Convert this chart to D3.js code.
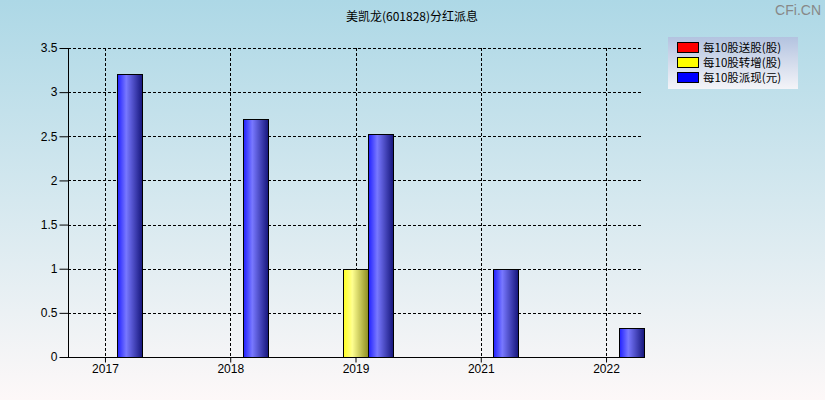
<!DOCTYPE html>
<html>
<head>
<meta charset="utf-8">
<script src="https://cdn.jsdelivr.net/npm/d3@7"></script>
<style>
  html, body { margin: 0; padding: 0; background: #fff; }
  svg { display: block; }
</style>
</head>
<body>
<div id="chart"></div>
<script>
const years = ['2017', '2018', '2019', '2021', '2022'];
const songGu = [0, 0, 0, 0, 0];        // 每10股送股(股)
const zhuanZeng = [0, 0, 1.0, 0, 0];   // 每10股转增(股)
const paiXian = [3.2, 2.7, 2.53, 1.0, 0.33]; // 每10股派现(元)
const yTicks = [0, 0.5, 1, 1.5, 2, 2.5, 3, 3.5];
const seriesNames = ['每10股送股(股)', '每10股转增(股)', '每10股派现(元)'];
const seriesColors = ['#ff0000', '#ffff00', '#0000ff'];

const W = 825, H = 400;
const margin = { left: 68, right: 182, top: 48, bottom: 43 };
const FONT = 'Arial, "Liberation Sans", sans-serif';
const CJK = '"Noto Sans CJK SC", sans-serif';

const svg = d3.select('#chart').append('svg').attr('width', W).attr('height', H);
const defs = svg.append('defs');

// page background: light blue fading to white
const bg = defs.append('linearGradient').attr('id', 'bg').attr('x1', 0).attr('y1', 0).attr('x2', 0).attr('y2', 1);
bg.append('stop').attr('offset', '0%').attr('stop-color', '#add8e6');
bg.append('stop').attr('offset', '100%').attr('stop-color', '#fdf8f8');
svg.append('rect').attr('width', W).attr('height', H).attr('fill', 'url(#bg)');

// bar shading gradients
function barGrad(id, base, light, dark) {
  const g = defs.append('linearGradient').attr('id', id).attr('x1', 0).attr('y1', 0).attr('x2', 1).attr('y2', 0);
  g.append('stop').attr('offset', '0%').attr('stop-color', base);
  g.append('stop').attr('offset', '35%').attr('stop-color', light);
  g.append('stop').attr('offset', '100%').attr('stop-color', dark);
}
barGrad('g0', '#ff2020', '#ff8080', '#801010');
barGrad('g1', '#ffff20', '#ffff90', '#8c8c20');
barGrad('g2', '#2020ff', '#7878ff', '#15157a');

const x = d3.scalePoint().domain(years)
  .range([margin.left, W - margin.right]).padding(0.295);
const y = d3.scaleLinear().domain([0, 3.5]).range([H - margin.bottom, margin.top]);
const barW = 25;

// title and watermark
svg.append('text').attr('x', 412).attr('y', 21).attr('text-anchor', 'middle')
  .attr('font-family', CJK).attr('font-size', 12).attr('fill', '#000')
  .text('美凯龙(601828)分红派息');
svg.append('text').attr('x', 821).attr('y', 15).attr('text-anchor', 'end')
  .attr('font-family', FONT).attr('font-size', 14).attr('fill', '#888')
  .text('CFi.CN');

// grid
const grid = svg.append('g').attr('stroke', '#000').attr('stroke-dasharray', '3,2').attr('stroke-width', 1);
grid.selectAll('.hg').data(yTicks.filter(d => d > 0)).join('line')
  .attr('x1', margin.left).attr('x2', W - margin.right)
  .attr('y1', d => Math.round(y(d)) + 0.5).attr('y2', d => Math.round(y(d)) + 0.5);
grid.selectAll('.vg').data(years).join('line')
  .attr('x1', d => Math.round(x(d)) + 0.5).attr('x2', d => Math.round(x(d)) + 0.5)
  .attr('y1', margin.top).attr('y2', H - margin.bottom);

// bars
const series = [songGu, zhuanZeng, paiXian];
series.forEach((vals, si) => {
  svg.append('g').selectAll('rect')
    .data(vals.map((v, i) => ({ year: years[i], v })).filter(d => d.v > 0))
    .join('rect')
    .attr('x', d => Math.round(x(d.year) + (si - 1) * barW - barW / 2) + 0.5)
    .attr('y', d => Math.round(y(d.v)) + 0.5)
    .attr('width', barW)
    .attr('height', d => Math.round(y(0)) - Math.round(y(d.v)))
    .attr('fill', `url(#g${si})`)
    .attr('stroke', '#000').attr('stroke-width', 1);
});

// axes
const yAxis = svg.append('g').attr('transform', `translate(${margin.left + 0.5},0)`)
  .call(d3.axisLeft(y).tickValues(yTicks).tickFormat(d3.format('')).tickSize(9).tickPadding(2));
const xAxis = svg.append('g').attr('transform', `translate(0,${Math.round(y(0)) + 0.5})`)
  .call(d3.axisBottom(x).tickSize(5).tickPadding(2));
[yAxis, xAxis].forEach(a => {
  a.select('.domain').attr('stroke', '#000');
  a.selectAll('line').attr('stroke', '#000');
  a.selectAll('text').attr('font-family', FONT).attr('font-size', 12).attr('fill', '#000');
});
yAxis.select('.domain').attr('d', `M0,${margin.top}V${H - margin.bottom}`);
xAxis.select('.domain').attr('d', `M${margin.left},0H${W - margin.right}`);

// legend
const lg = defs.append('linearGradient').attr('id', 'lg').attr('x1', 0).attr('y1', 0).attr('x2', 0).attr('y2', 1);
lg.append('stop').attr('offset', '0%').attr('stop-color', '#b3c3e0');
lg.append('stop').attr('offset', '100%').attr('stop-color', '#f4f4f8');
const legend = svg.append('g').attr('transform', 'translate(668,37)');
legend.append('rect').attr('width', 130).attr('height', 52).attr('fill', 'url(#lg)');
seriesNames.forEach((name, i) => {
  const row = legend.append('g').attr('transform', `translate(0,${5 + i * 15})`);
  row.append('rect').attr('x', 9.5).attr('y', 0.5).attr('width', 21).attr('height', 10)
    .attr('fill', seriesColors[i]).attr('stroke', '#000');
  row.append('text').attr('x', 35).attr('y', 10).attr('font-family', CJK).attr('font-size', 11.5)
    .attr('fill', '#000').text(name);
});
</script>
</body>
</html>
